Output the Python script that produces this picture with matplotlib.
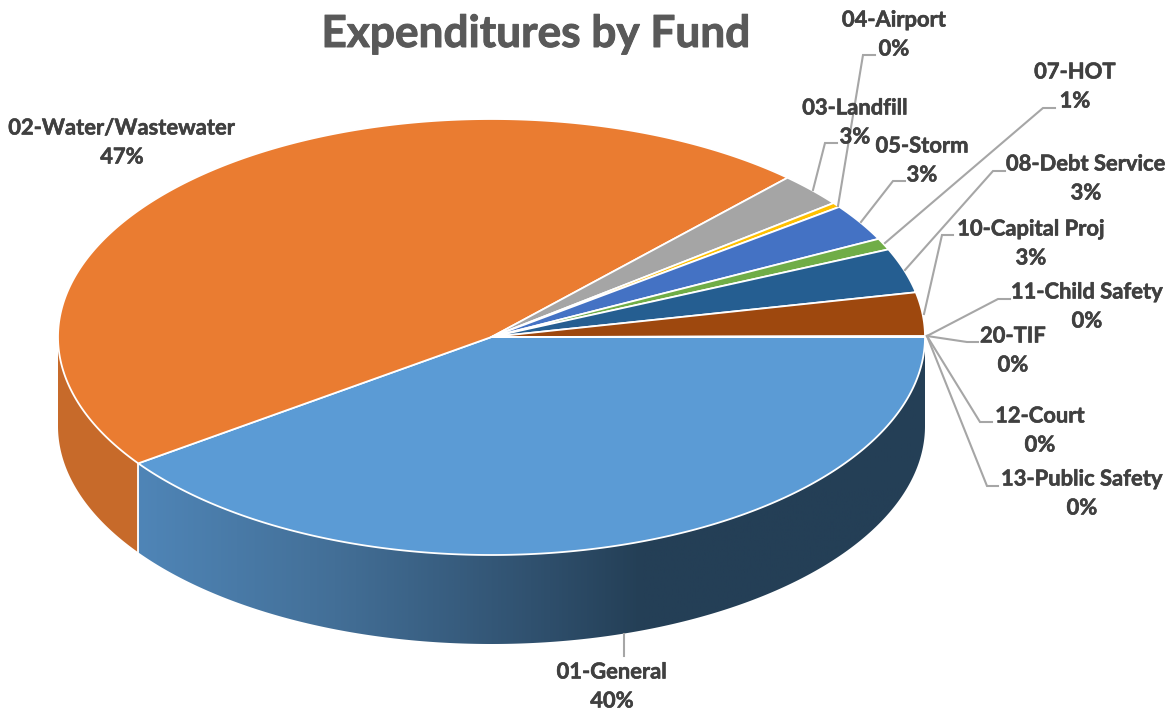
import numpy as np
import matplotlib
matplotlib.use("Agg")
import matplotlib.pyplot as plt
import matplotlib.patheffects as pe
from matplotlib.colors import LinearSegmentedColormap
from matplotlib.patches import Polygon

# Fund shares of total expenditures, in percent
funds = ["01-General", "02-Water/Wastewater", "03-Landfill", "04-Airport", "05-Storm",
         "07-HOT", "08-Debt Service", "10-Capital Proj", "11-Child Safety", "20-TIF",
         "12-Court", "13-Public Safety"]
shares = [40.2, 46.85, 2.51, 0.35, 2.75, 0.85, 3.3, 3.25, 0.01, 0.01, 0.01, 0.01]
slice_colors = ["#5b9bd5", "#ea7c31", "#a5a5a5", "#ffc000", "#4472c4", "#70ad47",
                "#255e91", "#9e480e", "#636363", "#997300", "#264478", "#43682b"]

# Label centres (x, y of the name line) in figure pixels
label_pos = [(612, 672), (122, 128), (855, 108), (894, 20), (922, 146), (1075, 72),
             (1086, 164), (1031, 229), (1087, 292), (1013, 336), (1040, 416), (1082, 479)]

# Leader lines, one polyline per labelled slice; the big orange slice has none
leaders = {
    "01-General": [(624, 634), (624, 656)],
    "03-Landfill": [(813, 190), (825, 143), (837, 143)],
    "04-Airport": [(838, 206), (863, 55), (875, 55)],
    "05-Storm": [(861, 222), (893, 181), (905, 181)],
    "07-HOT": [(885, 243), (1043, 108), (1055, 108)],
    "08-Debt Service": [(905, 270), (993, 171), (1005, 171)],
    "10-Capital Proj": [(924, 314), (942, 235), (953, 235)],
    "11-Child Safety": [(927, 336), (998, 299), (1010, 299)],
    "20-TIF": [(927, 336), (967, 342), (978, 342)],
    "12-Court": [(927, 336), (980, 422), (992, 422)],
    "13-Public Safety": [(927, 336), (987, 486), (998, 486)],
}

CX, CY, RX, RY, DEPTH = 491.5, 337.0, 433.5, 218.0, 89.0
LABEL_COLOR = "#404040"
LEADER_COLOR = "#a6a6a6"
LABEL_FONT = "Lato"
LABEL_SIZE = 15.8


def rim(a0, a1, dy=0.0):
    """Points along the pie's elliptical rim between two angles (degrees, clockwise on screen)."""
    t = np.radians(np.linspace(a0, a1, max(int(abs(a1 - a0) * 3), 2)))
    return np.column_stack([CX + RX * np.cos(t), CY + dy + RY * np.sin(t)])


fig = plt.figure(figsize=(11.76, 7.13), dpi=100)
ax = fig.add_axes([0, 0, 1, 1])

edges = np.concatenate([[0], np.cumsum(shares)]) / sum(shares) * 360.0

# Walls of the disc: only the two slices facing the viewer show one
gen_a0, gen_a1 = edges[0], edges[1]
wall_pts = np.vstack([rim(gen_a0, gen_a1), rim(gen_a1, gen_a0, DEPTH)])
wall = Polygon(wall_pts, closed=True, facecolor="none", edgecolor="none")
ax.add_patch(wall)
wall_cmap = LinearSegmentedColormap.from_list(
    "wall", [(0.0, "#4f85b7"), (0.25, "#436f97"), (0.5, "#30516f"),
             (0.64, "#243f56"), (1.0, "#243f56")])
corner = rim(gen_a1, gen_a1)[0]
gradient = ax.imshow(np.linspace(0, 1, 512)[None, :], cmap=wall_cmap, vmin=0, vmax=1,
                     extent=(corner[0], CX + RX, CY + RY + DEPTH, CY),
                     aspect="auto", zorder=1)
gradient.set_clip_path(wall)

water_a1 = 180.0
ax.add_patch(Polygon(np.vstack([rim(gen_a1, water_a1), rim(water_a1, gen_a1, DEPTH)]),
                     closed=True, facecolor="#c76a2a", edgecolor="none", zorder=1))
ax.plot([corner[0], corner[0]], [corner[1], corner[1] + DEPTH], color="white", lw=1.3, zorder=2)

# Top face of the pie
for color, a0, a1 in zip(slice_colors, edges[:-1], edges[1:]):
    pts = np.vstack([[CX, CY], rim(a0, a1)])
    ax.add_patch(Polygon(pts, closed=True, facecolor=color, edgecolor="white",
                         linewidth=1.3, joinstyle="round", zorder=3))

for name, path in leaders.items():
    xs, ys = zip(*path)
    ax.plot(xs, ys, color=LEADER_COLOR, lw=1.5, solid_joinstyle="miter", zorder=4)

heavier = [pe.withStroke(linewidth=0.4, foreground=LABEL_COLOR)]
for name, share, (x, y) in zip(funds, shares, label_pos):
    ax.text(x, y, name, ha="center", va="center", fontsize=LABEL_SIZE, fontweight="bold",
            family=LABEL_FONT, color=LABEL_COLOR, zorder=5, path_effects=heavier)
    ax.text(x, y + 29, f"{round(share)}%", ha="center", va="center", fontsize=LABEL_SIZE,
            fontweight="bold", family=LABEL_FONT, color=LABEL_COLOR, zorder=5,
            path_effects=heavier)

ax.text(536, 34, "Expenditures by Fund", ha="center", va="center", fontsize=31.8,
        fontweight="bold", family=LABEL_FONT, color="#595959", zorder=5,
        path_effects=[pe.withStroke(linewidth=0.7, foreground="#595959")])

ax.set_xlim(0, 1176)
ax.set_ylim(713, 0)
ax.axis("off")

fig.savefig("out.png", dpi=100, facecolor="white")
